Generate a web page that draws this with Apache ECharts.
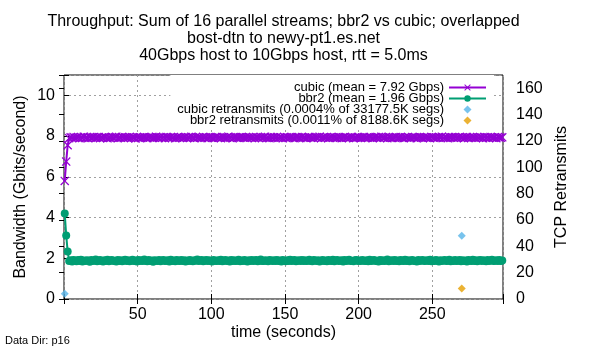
<!DOCTYPE html>
<html>
<head>
    <meta charset="utf-8">
    <title>Throughput bbr2 vs cubic</title>
    <script src="https://cdn.jsdelivr.net/npm/echarts@6/dist/echarts.min.js"></script>
    <style>
        body { margin: 0; background: #fff; }
        #main { width: 600px; height: 350px; }
    </style>
</head>
<body>
<div id="main"></div>
<script type="text/javascript">
    // sample times: first sample at 0.5 s, then one sample per second
    const firstSample = 0.5;
    const sampleStep = 1;

    // cubic throughput, Gbits/s (sum of 16 streams)
    const cubicGbps = [
        5.80, 6.75, 7.55,
        7.90,7.94,7.92,7.96,7.91,7.93,7.95,7.89,7.94,7.92,7.97,7.91,7.93,7.90,7.95,7.92,7.94,7.96,7.91,7.93,
        7.95,7.90,7.93,7.92,7.96,7.94,7.89,7.93,7.91,7.95,7.92,7.94,7.97,7.90,7.93,7.92,7.95,7.91,7.94,7.93,
        7.92,7.96,7.91,7.94,7.93,7.88,7.95,7.92,7.94,7.91,7.93,7.96,7.92,7.90,7.94,7.93,7.95,7.91,7.92,7.97,
        7.93,7.91,7.95,7.92,7.94,7.90,7.96,7.93,7.91,7.94,7.92,7.95,7.89,7.93,7.96,7.92,7.94,7.91,7.93,7.95,
        7.91,7.94,7.92,7.97,7.93,7.90,7.95,7.92,7.94,7.93,7.91,7.96,7.92,7.94,7.90,7.93,7.95,7.92,7.91,7.94,
        7.96,7.92,7.93,7.90,7.95,7.94,7.91,7.93,7.97,7.92,7.94,7.89,7.93,7.95,7.92,7.91,7.94,7.96,7.93,7.92,
        7.94,7.91,7.95,7.93,7.92,7.96,7.90,7.94,7.93,7.91,7.95,7.92,7.94,7.97,7.91,7.93,7.90,7.95,7.92,7.94,
        7.92,7.95,7.91,7.94,7.93,7.89,7.96,7.92,7.94,7.91,7.93,7.95,7.92,7.90,7.94,7.96,7.93,7.91,7.95,7.92,
        7.93,7.90,7.94,7.96,7.92,7.93,7.91,7.95,7.94,7.92,7.97,7.90,7.93,7.94,7.92,7.95,7.91,7.93,7.96,7.92,
        7.94,7.92,7.91,7.95,7.93,7.90,7.94,7.96,7.92,7.93,7.91,7.94,7.95,7.89,7.93,7.92,7.96,7.94,7.91,7.93,
        7.95,7.91,7.93,7.92,7.96,7.94,7.90,7.93,7.95,7.92,7.94,7.91,7.97,7.93,7.92,7.95,7.90,7.94,7.93,7.91,
        7.92,7.94,7.96,7.91,7.93,7.95,7.92,7.90,7.94,7.93,7.96,7.92,7.91,7.95,7.93,7.94,7.89,7.92,7.96,7.93,
        7.91,7.95,7.93,7.94,7.92,7.90,7.96,7.93,7.91,7.94,7.92,7.95,7.93,7.97,7.91,7.94,7.92,7.90,7.95,7.93,
        7.94,7.92,7.95,7.91,7.93,7.96,7.92,7.94,7.90,7.93,7.95,7.91,7.94,7.92,7.96,7.93,7.91,7.95,7.92,7.94,
        7.93,7.90,7.95,7.92,7.94,7.91,7.96,7.93,7.92,7.94,7.90,7.95,7.93,7.92,7.94
    ];

    // bbr2 throughput, Gbits/s
    const bbr2Gbps = [
        4.20, 3.12, 2.33,
        1.86,1.90,1.84,1.92,1.88,1.85,1.91,1.87,1.93,1.84,1.89,1.86,1.90,1.88,1.83,1.91,1.87,1.89,1.94,1.85,
        1.88,1.92,1.86,1.84,1.90,1.87,1.93,1.85,1.89,1.91,1.86,1.88,1.84,1.92,1.87,1.90,1.85,1.89,1.93,1.86,
        1.90,1.85,1.88,1.93,1.86,1.89,1.84,1.91,1.87,1.90,1.86,1.94,1.88,1.85,1.91,1.87,1.89,1.83,1.90,1.88,
        1.87,1.91,1.85,1.89,1.92,1.86,1.88,1.90,1.84,1.93,1.87,1.89,1.85,1.91,1.88,1.86,1.92,1.87,1.90,1.84,
        1.89,1.86,1.92,1.87,1.85,1.90,1.88,1.94,1.86,1.89,1.91,1.85,1.88,1.92,1.86,1.90,1.87,1.84,1.91,1.88,
        1.86,1.90,1.87,1.93,1.85,1.88,1.91,1.86,1.89,1.84,1.92,1.87,1.90,1.86,1.88,1.93,1.85,1.89,1.87,1.91,
        1.88,1.84,1.90,1.87,1.92,1.86,1.89,1.91,1.85,1.88,1.94,1.87,1.86,1.90,1.88,1.85,1.92,1.89,1.86,1.90,
        1.87,1.91,1.86,1.89,1.84,1.92,1.88,1.85,1.90,1.87,1.93,1.86,1.89,1.91,1.85,1.88,1.90,1.86,1.92,1.87,
        1.90,1.86,1.88,1.93,1.87,1.85,1.91,1.89,1.86,1.90,1.84,1.88,1.92,1.87,1.89,1.85,1.91,1.88,1.86,1.93,
        1.85,1.89,1.92,1.86,1.88,1.90,1.84,1.91,1.87,1.89,1.93,1.86,1.88,1.85,1.90,1.92,1.87,1.89,1.86,1.91,
        1.88,1.86,1.90,1.85,1.93,1.87,1.89,1.91,1.86,1.88,1.84,1.92,1.87,1.90,1.86,1.89,1.94,1.85,1.88,1.90,
        1.87,1.92,1.86,1.89,1.85,1.91,1.88,1.86,1.93,1.87,1.90,1.85,1.89,1.92,1.86,1.88,1.84,1.91,1.87,1.89,
        1.91,1.86,1.88,1.90,1.87,1.93,1.85,1.89,1.86,1.92,1.88,1.84,1.90,1.87,1.89,1.91,1.86,1.88,1.93,1.85,
        1.89,1.87,1.91,1.86,1.88,1.92,1.85,1.90,1.87,1.89,1.84,1.91,1.88,1.86,1.93,1.87,1.90,1.85,1.89,1.92,
        1.86,1.90,1.88,1.85,1.91,1.87,1.89,1.93,1.86,1.88,1.90,1.87,1.92,1.86,1.89
    ];

    // retransmits (right axis): [time, count]
    const cubicRetrans = [[0.5, 4], [270, 48]];
    const bbr2Retrans = [[270, 8]];

    const seriesNames = [
        'cubic (mean = 7.92 Gbps)',
        'bbr2 (mean = 1.96 Gbps)',
        'cubic retransmits (0.0004% of 33177.5K segs)',
        'bbr2 retransmits (0.0011% of 8188.6K segs)'
    ];
    const titleLines = [
        'Throughput: Sum of 16 parallel streams; bbr2 vs cubic; overlapped',
        'bost-dtn to newy-pt1.es.net',
        '40Gbps host to 10Gbps host, rtt = 5.0ms'
    ];
    const xTicks = [50, 100, 150, 200, 250];

    function toPoints(values) {
        return values.map(function (v, i) { return [firstSample + i * sampleStep, v]; });
    }

    const FONT = 'Liberation Sans, Arial, sans-serif';
    const crossPath = 'path://M0,1L1,0L5,4L9,0L10,1L6,5L10,9L9,10L5,6L1,10L0,9L4,5Z';
    const diamondPath = 'path://M5,0L10,5L5,10L0,5Z';
    const grid = { left: 64, right: 97, top: 75, bottom: 51 };
    const plotCx = grid.left + (600 - grid.left - grid.right) / 2;

    let myChart = echarts.init(document.getElementById('main'));

    myChart.setOption({
        animation: false,
        backgroundColor: '#fff',
        textStyle: { fontFamily: FONT },
        grid: {
            left: grid.left, right: grid.right, top: grid.top, bottom: grid.bottom,
            show: true, borderColor: '#000', borderWidth: 1, backgroundColor: 'transparent'
        },
        legend: {
            orient: 'vertical',
            align: 'right',
            right: 106,
            top: 75,
            padding: [6, 7, 3, 7],
            itemGap: -2,
            itemWidth: 37,
            itemHeight: 8,
            symbolKeepAspect: true,
            backgroundColor: '#fff',
            textStyle: { fontFamily: FONT, fontSize: 13, color: '#000' },
            data: [
                { name: seriesNames[0] },
                { name: seriesNames[1] },
                { name: seriesNames[2], icon: diamondPath },
                { name: seriesNames[3], icon: diamondPath }
            ],
            selectedMode: false
        },
        xAxis: [{
            type: 'value',
            min: 0, max: 298, interval: 50,
            axisLine: { show: false },
            axisTick: { inside: true, length: 5, lineStyle: { color: '#000' } },
            axisLabel: {
                margin: 8, color: '#000', fontSize: 16, fontFamily: FONT,
                formatter: function (v) { return xTicks.indexOf(v) >= 0 ? String(v) : ''; }
            },
            splitLine: { show: true, lineStyle: { color: '#a0a0a0', type: [2, 3], width: 1 } }
        }, {
            type: 'value', position: 'top',
            min: 0, max: 298, interval: 50,
            axisLine: { show: false },
            axisTick: { inside: true, length: 5, lineStyle: { color: '#000' } },
            axisLabel: { show: false },
            splitLine: { show: false }
        }],
        yAxis: [{
            type: 'value',
            min: 0, max: 11, interval: 2,
            axisLine: { show: false },
            axisTick: { show: true, inside: true, length: 5, lineStyle: { color: '#000' } },
            axisLabel: {
                margin: 9, color: '#000', fontSize: 16, fontFamily: FONT,
                formatter: function (v) { return v <= 10 ? String(v) : ''; }
            },
            splitLine: { show: true, lineStyle: { color: '#a0a0a0', type: [2, 3], width: 1 } }
        }, {
            type: 'value', position: 'right',
            min: 0, max: 170, interval: 20,
            axisLine: { show: false },
            axisTick: { show: true, inside: true, length: 5, lineStyle: { color: '#000' } },
            axisLabel: {
                margin: 13, color: '#000', fontSize: 16, fontFamily: FONT,
                formatter: function (v) { return v <= 160 ? String(v) : ''; }
            },
            splitLine: { show: false }
        }],
        graphic: [
            {
                type: 'text', x: plotCx, y: 13,
                style: {
                    text: titleLines.join('\n'), align: 'center', verticalAlign: 'top',
                    font: '16px ' + FONT, lineHeight: 17, fill: '#000'
                }
            },
            {
                type: 'text', x: 21, y: 187, rotation: Math.PI / 2,
                style: {
                    text: 'Bandwidth (Gbits/second)', align: 'center', verticalAlign: 'middle',
                    font: '16px ' + FONT, fill: '#000'
                }
            },
            {
                type: 'text', x: 562, y: 187, rotation: Math.PI / 2,
                style: {
                    text: 'TCP Retransmits', align: 'center', verticalAlign: 'middle',
                    font: '16px ' + FONT, fill: '#000'
                }
            },
            {
                type: 'text', x: plotCx, y: 333,
                style: {
                    text: 'time (seconds)', align: 'center', verticalAlign: 'middle',
                    font: '16px ' + FONT, fill: '#000'
                }
            },
            {
                type: 'text', x: 5, y: 341,
                style: {
                    text: 'Data Dir: p16', align: 'left', verticalAlign: 'middle',
                    font: '11px ' + FONT, fill: '#000'
                }
            }
        ],
        series: [
            {
                name: seriesNames[0], type: 'line',
                data: toPoints(cubicGbps),
                symbol: crossPath, symbolSize: 9,
                lineStyle: { color: '#9400d3', width: 2 },
                itemStyle: { color: '#9400d3' },
                z: 3
            },
            {
                name: seriesNames[1], type: 'line',
                data: toPoints(bbr2Gbps),
                symbol: 'circle', symbolSize: 8,
                lineStyle: { color: '#009e73', width: 2 },
                itemStyle: { color: '#009e73' },
                z: 3
            },
            {
                name: seriesNames[2], type: 'scatter', yAxisIndex: 1,
                data: cubicRetrans,
                symbol: 'diamond', symbolSize: 8,
                itemStyle: { color: '#56b4e9' },
                z: 4
            },
            {
                name: seriesNames[3], type: 'scatter', yAxisIndex: 1,
                data: bbr2Retrans,
                symbol: 'diamond', symbolSize: 8,
                itemStyle: { color: '#e69f00' },
                z: 4
            }
        ]
    });
</script>
</body>
</html>
